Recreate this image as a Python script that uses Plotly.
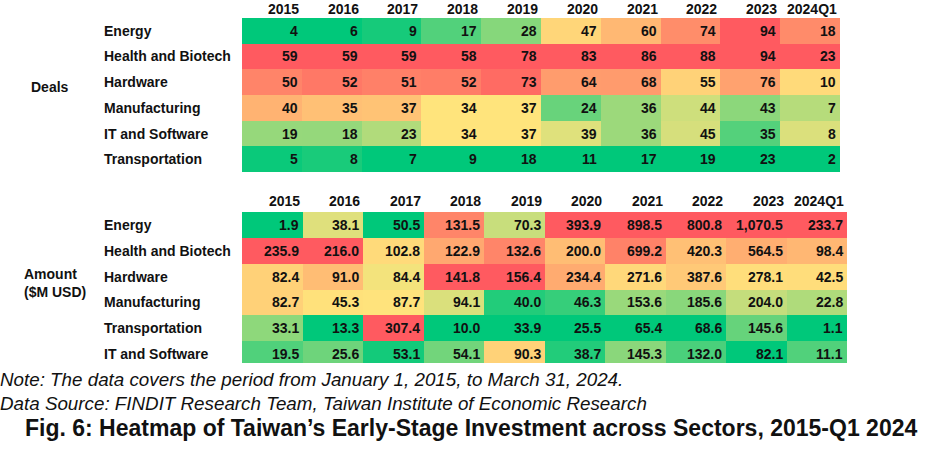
import plotly.graph_objects as go
import numpy as np

W, H = 941, 458

years = ["2015", "2016", "2017", "2018", "2019", "2020", "2021", "2022", "2023", "2024Q1"]

deal_sectors = ["Energy", "Health and Biotech", "Hardware", "Manufacturing",
                "IT and Software", "Transportation"]
deals_energy = [4, 6, 9, 17, 28, 47, 60, 74, 94, 18]
deals_health = [59, 59, 59, 58, 78, 83, 86, 88, 94, 23]
deals_hardware = [50, 52, 51, 52, 73, 64, 68, 55, 76, 10]
deals_manufacturing = [40, 35, 37, 34, 37, 24, 36, 44, 43, 7]
deals_it = [19, 18, 23, 34, 37, 39, 36, 45, 35, 8]
deals_transport = [5, 8, 7, 9, 18, 11, 17, 19, 23, 2]

amount_sectors = ["Energy", "Health and Biotech", "Hardware", "Manufacturing",
                  "Transportation", "IT and Software"]
amt_energy = [1.9, 38.1, 50.5, 131.5, 70.3, 393.9, 898.5, 800.8, 1070.5, 233.7]
amt_health = [235.9, 216.0, 102.8, 122.9, 132.6, 200.0, 699.2, 420.3, 564.5, 98.4]
amt_hardware = [82.4, 91.0, 84.4, 141.8, 156.4, 234.4, 271.6, 387.6, 278.1, 42.5]
amt_manufacturing = [82.7, 45.3, 87.7, 94.1, 40.0, 46.3, 153.6, 185.6, 204.0, 22.8]
amt_transport = [33.1, 13.3, 307.4, 10.0, 33.9, 25.5, 65.4, 68.6, 145.6, 1.1]
amt_it = [19.5, 25.6, 53.1, 54.1, 90.3, 38.7, 145.3, 132.0, 82.1, 11.1]

deals = np.array([deals_energy, deals_health, deals_hardware, deals_manufacturing,
                  deals_it, deals_transport], dtype=float)
amounts = np.array([amt_energy, amt_health, amt_hardware, amt_manufacturing,
                    amt_transport, amt_it], dtype=float)

GREEN, YELLOW, RED = "#00C87A", "#FFE47C", "#FF5A60"
colorscale = [[0.0, GREEN], [0.5, YELLOW], [1.0, RED]]
FONT = "Liberation Sans, Arial, sans-serif"
TXT = "#111111"


def column_scale(m):
    """Excel-like 3-colour scale per column: min -> 0, median -> 0.5, max -> 1."""
    out = np.zeros_like(m)
    for j in range(m.shape[1]):
        col = m[:, j]
        lo, med, hi = col.min(), np.median(col), col.max()
        for i, v in enumerate(col):
            if v <= med:
                out[i, j] = 0.5 * (v - lo) / (med - lo) if med > lo else 0.5
            else:
                out[i, j] = 0.5 + 0.5 * (v - med) / (hi - med) if hi > med else 0.5
    return out


fig = go.Figure()
fig.add_trace(go.Heatmap(z=column_scale(deals), x=list(range(len(years))),
                         y=list(range(len(deal_sectors))), colorscale=colorscale,
                         zmin=0, zmax=1, showscale=False, hoverinfo="skip",
                         xaxis="x", yaxis="y"))
fig.add_trace(go.Heatmap(z=column_scale(amounts), x=list(range(len(years))),
                         y=list(range(len(amount_sectors))), colorscale=colorscale,
                         zmin=0, zmax=1, showscale=False, hoverinfo="skip",
                         xaxis="x2", yaxis="y2"))

ann = []
cell_font = dict(family=FONT, size=14, color=TXT, weight="bold")


def add_block(mat, sectors, xr, yr, fmt, year_y):
    for i, sec in enumerate(sectors):
        ann.append(dict(text=sec, xref="paper", yref=yr, x=102 / W, y=i,
                        xanchor="left", yanchor="middle", showarrow=False,
                        font=cell_font))
        for j in range(len(years)):
            ann.append(dict(text=fmt(mat[i, j]), xref=xr, yref=yr, x=j + 0.5, y=i,
                            xanchor="right", yanchor="middle", xshift=-2,
                            showarrow=False, font=cell_font))
    for j, yv in enumerate(years):
        ann.append(dict(text=yv, xref=xr, yref="paper", x=j + 0.5, y=1 - year_y / H,
                        xanchor="right", yanchor="middle", xshift=-1,
                        showarrow=False, font=cell_font))


add_block(deals, deal_sectors, "x", "y", lambda v: f"{int(v)}", 8.5)
add_block(amounts, amount_sectors, "x2", "y2", lambda v: f"{v:,.1f}", 201)

ann.append(dict(text="Deals", xref="paper", yref="paper", x=29 / W, y=1 - 87 / H,
                xanchor="left", yanchor="middle", showarrow=False, font=cell_font))
ann.append(dict(text="Amount<br>($M USD)", xref="paper", yref="paper", x=22 / W,
                y=1 - 283 / H, xanchor="left", yanchor="middle", align="left",
                showarrow=False, font=cell_font))

foot_font = dict(family=FONT, size=18.8, color=TXT, style="italic")
ann.append(dict(text="Note: The data covers the period from January 1, 2015, to March 31, 2024.",
                xref="paper", yref="paper", x=0, y=1 - 379 / H, xanchor="left",
                yanchor="middle", xshift=-2, showarrow=False, font=foot_font))
ann.append(dict(text="Data Source: FINDIT Research Team, Taiwan Institute of Economic Research",
                xref="paper", yref="paper", x=0, y=1 - 403 / H, xanchor="left",
                yanchor="middle", xshift=-2, showarrow=False, font=foot_font))
ann.append(dict(text="Fig. 6: Heatmap of Taiwan\u2019s Early-Stage Investment across Sectors, 2015-Q1 2024",
                xref="paper", yref="paper", x=0.5, y=1 - 428 / H, xanchor="center",
                yanchor="middle", showarrow=False,
                font=dict(family=FONT, size=23, color=TXT, weight="bold")))

hidden = dict(showticklabels=False, showgrid=False, zeroline=False, showline=False,
              ticks="", fixedrange=True)
fig.update_layout(
    width=W, height=H, margin=dict(l=0, r=0, t=0, b=0),
    paper_bgcolor="white", plot_bgcolor="white",
    xaxis=dict(domain=[242 / W, 840 / W], range=[-0.5, 9.5], **hidden),
    yaxis=dict(domain=[1 - 172 / H, 1 - 18 / H], range=[5.5, -0.5], **hidden),
    xaxis2=dict(domain=[242 / W, 847 / W], range=[-0.5, 9.5], anchor="y2", **hidden),
    yaxis2=dict(domain=[1 - 363 / H, 1 - 212 / H], range=[5.35, -0.5], anchor="x2", **hidden),
    annotations=ann,
    showlegend=False,
)

fig.write_html("out.html", config={"displayModeBar": False},
               post_script="document.body.style.margin='0';")
